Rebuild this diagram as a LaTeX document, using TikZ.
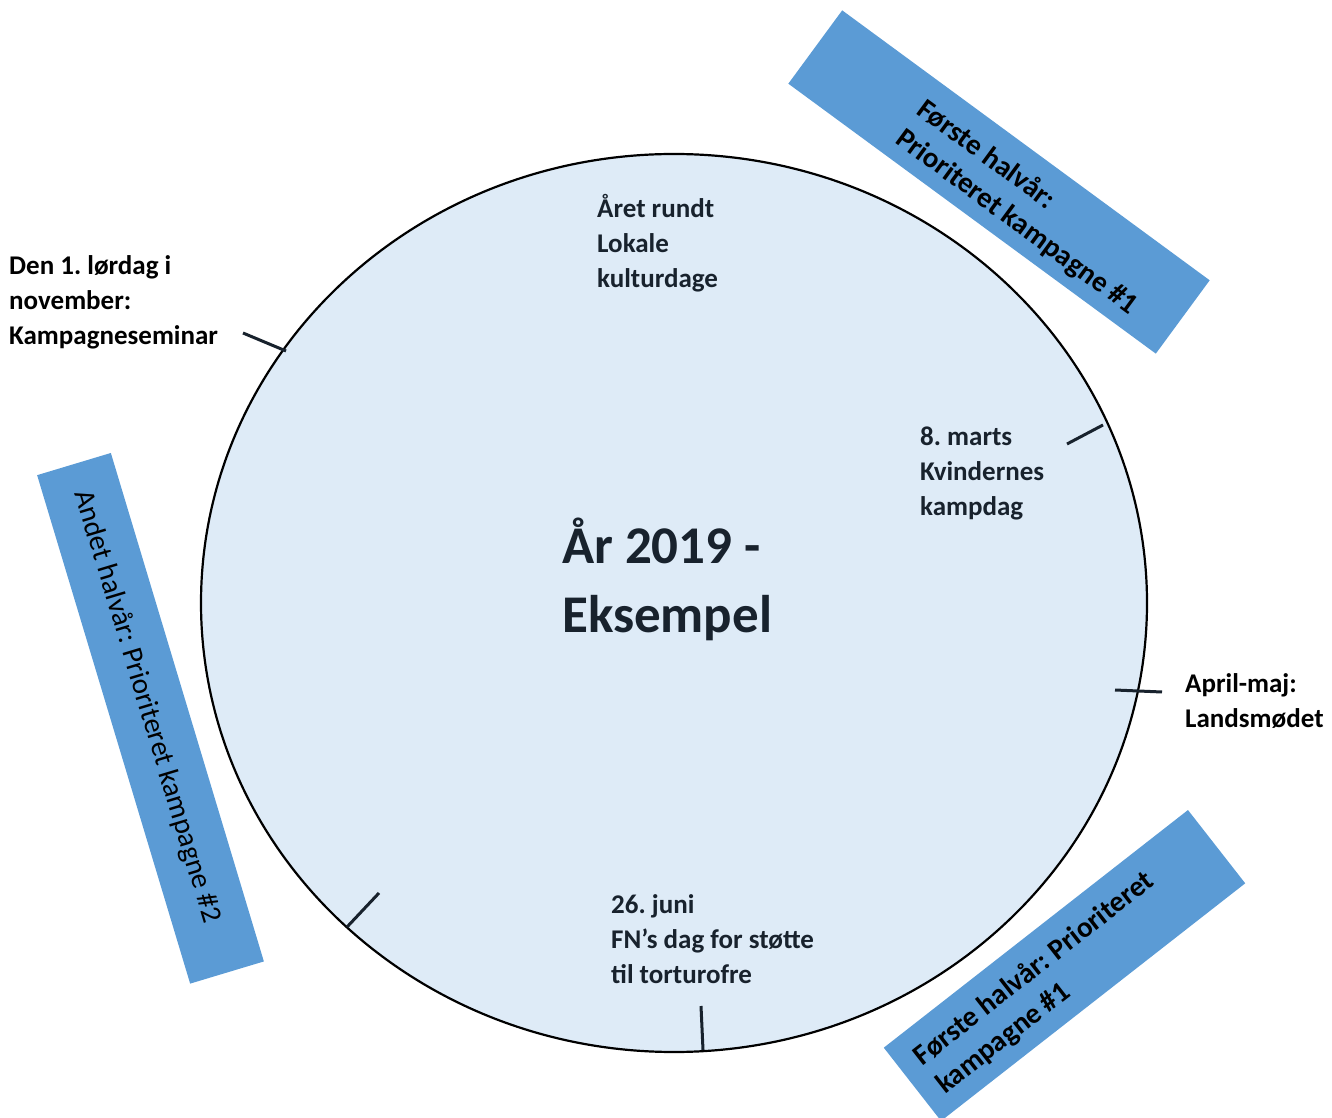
\documentclass[tikz,border=0pt]{standalone}
\usepackage{fontspec}
\setmainfont{Carlito}
\frenchspacing
\usetikzlibrary{shapes.geometric}

\definecolor{wheelfill}{HTML}{DEEBF7}
\definecolor{bandblue}{HTML}{5B9BD5}
\definecolor{inkdark}{HTML}{18222D}

\tikzset{
  inlabel/.style={anchor=west, align=left, inner sep=0pt, text=inkdark,
    font=\bfseries\fontsize{27}{35}\selectfont},
  outlabel/.style={anchor=west, align=left, inner sep=0pt, text=black,
    font=\bfseries\fontsize{27}{35}\selectfont},
  band/.style={fill=bandblue, draw=none, inner sep=0pt},
  bandtext/.style={align=left, inner sep=0pt, text=black,
    font=\bfseries\fontsize{29}{36}\selectfont},
  tickline/.style={draw=inkdark, line width=3pt}
}

\begin{document}
\begin{tikzpicture}[x=1pt, y=1pt]
        \useasboundingbox (0,0) rectangle (1332,1117);
        % year wheel
        \node[ellipse, draw=black, line width=2.2pt, fill=wheelfill, inner sep=0pt,
              minimum width=946pt, minimum height=898pt] (wheel) at (674,514) {};
        \node[anchor=west, align=left, inner sep=0pt, text=inkdark,
              font=\bfseries\fontsize{53}{69}\selectfont] (title) at (562,538) {År 2019 -\\Eksempel};
        % events
        \node[inlabel] (aaret) at (597,874) {Året rundt\\Lokale\\kulturdage};
        \node[inlabel] (marts) at (920,644) {8. marts\\Kvindernes\\kampdag};
        \node[inlabel] (juni) at (611,178) {26. juni\\FN’s dag for støtte\\til torturofre};
        \node[outlabel] (novem) at (9,815) {Den 1. lørdag i\\november:\\Kampagneseminar};
        \node[outlabel] (lands) at (1185,416) {April-maj:\\Landsmødet};
        % ticks on the rim
        \coordinate (novemA) at (243,784); \coordinate (novemB) at (286,766);
        \coordinate (martsA) at (1067,673); \coordinate (martsB) at (1103,692);
        \coordinate (landsA) at (1115,427); \coordinate (landsB) at (1162,425);
        \coordinate (autumnA) at (347,190); \coordinate (autumnB) at (379,224);
        \coordinate (juniA) at (701,111); \coordinate (juniB) at (703,67);
        \foreach \a in {novem, marts, lands, autumn, juni} {
                \draw[tickline] (\a A) -- (\a B);
            }
        % half-year bands
        \begin{scope}[shift={(999,935)}, rotate=-36.3, transform shape]
                \node[band, minimum width=456pt, minimum height=91pt] (bandA) at (0,0) {};
                \node[bandtext] (bandAtext) at (38,-4) {Første halvår:\\Prioriteret kampagne \#1};
        \end{scope}
        \begin{scope}[shift={(1064.5,151.5)}, rotate=38, transform shape]
                \node[band, minimum width=386pt, minimum height=93pt] (bandB) at (0,0) {};
                \node[bandtext] (bandBtext) at (-26,-2) {Første halvår: Prioriteret\\kampagne \#1};
        \end{scope}
        \begin{scope}[shift={(150.5,398.7)}, rotate=-73.25, transform shape]
                \node[band, minimum width=531pt, minimum height=77pt] (bandC) at (0,0) {};
                \node[bandtext, font=\fontsize{29}{36}\selectfont] (bandCtext) at (-12,0)
                        {Andet halvår: Prioriteret kampagne \#2};
        \end{scope}
    \end{tikzpicture}
\end{document}
